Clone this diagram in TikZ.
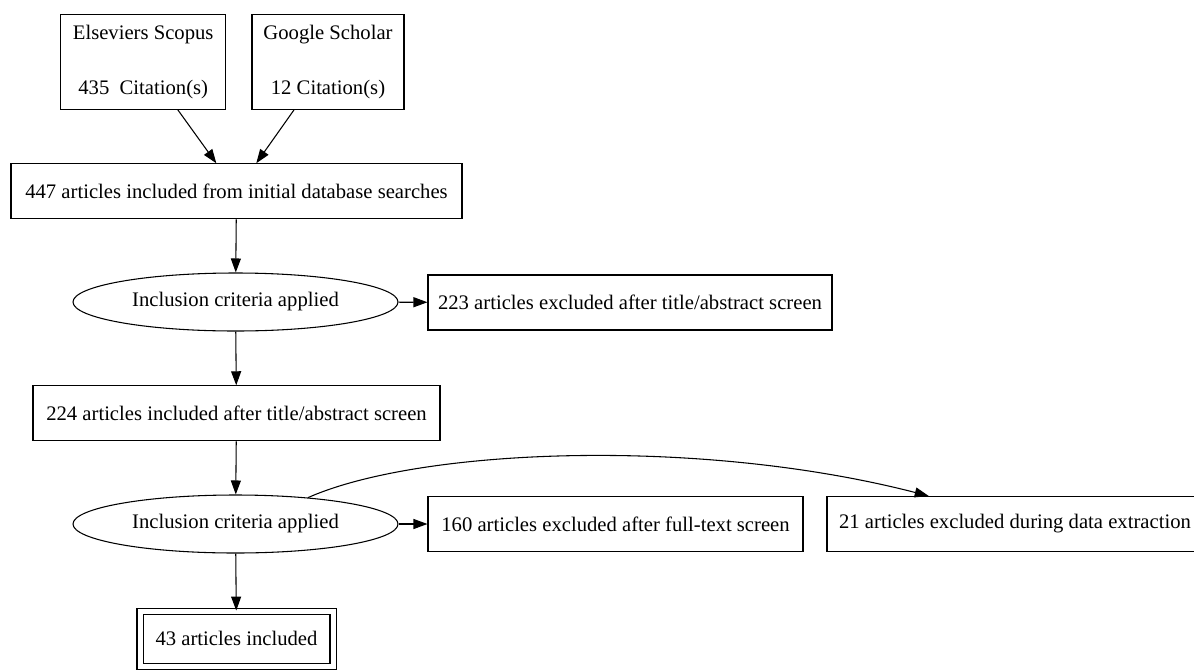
\documentclass[tikz,border=0pt]{standalone}
\usepackage{fontspec}
\setmainfont{Liberation Serif}
\usetikzlibrary{shapes.geometric,arrows.meta}
\begin{document}
\begin{tikzpicture}[x=0.75pt,y=-0.75pt,
  every node/.style={font=\fontsize{15.5}{19}\selectfont, inner sep=0pt, line width=0.8pt},
  box/.style={draw, rectangle, minimum height=41.25pt},
  oval/.style={draw, ellipse, minimum width=243.75pt, minimum height=43.5pt},
  conn/.style={line width=0.8pt, -{Triangle[length=10.5pt,width=7.5pt]}}]
\useasboundingbox (0,0) rectangle (1194,671);
\clip (0,0) rectangle (1194,671);
\node[box, minimum width=123.75pt, minimum height=71.25pt, align=center] (scopus) at (143.2,61.8) {Elseviers Scopus\\[22.25pt]435\ \ Citation(s)};
\node[box, minimum width=114pt, minimum height=71.25pt, align=center] (gs) at (328,61.8) {Google Scholar\\[22.25pt]12 Citation(s)};
\node[box, minimum width=338.25pt] (db) at (236.5,191.3) {447 articles included from initial database searches};
\node[oval] (ell1) at (235.5,302) {Inclusion criteria applied};
\node[box, minimum width=303pt] (ex1) at (630,302.5) {223 articles excluded after title/abstract screen};
\node[box, minimum width=305.25pt] (inc1) at (236.5,413.3) {224 articles included after title/abstract screen};
\node[oval] (ell2) at (235.5,524) {Inclusion criteria applied};
\node[box, minimum width=281.25pt] (ex2) at (615.5,524) {160 articles excluded after full-text screen};
\node[box, minimum width=282pt] (ex3) at (1015,524) {21 articles excluded during data extraction};
\node[draw, rectangle, double, double distance=3.75pt, minimum width=144.75pt, minimum height=41.6pt] (final) at (236.5,638.8) {43 articles included};
\draw[conn] (scopus) -- (db);
\draw[conn] (gs) -- (db);
\draw[conn] (db) -- (ell1);
\draw[conn] (ell1) -- (ex1);
\draw[conn] (ell1) -- (inc1);
\draw[conn] (inc1) -- (ell2);
\draw[conn] (ell2) -- (ex2);
\draw[conn] (ell2) -- (final);
\draw[conn] (ell2.20) .. controls (420,448) and (700,437) .. (ex3.162);
\end{tikzpicture}
\end{document}
